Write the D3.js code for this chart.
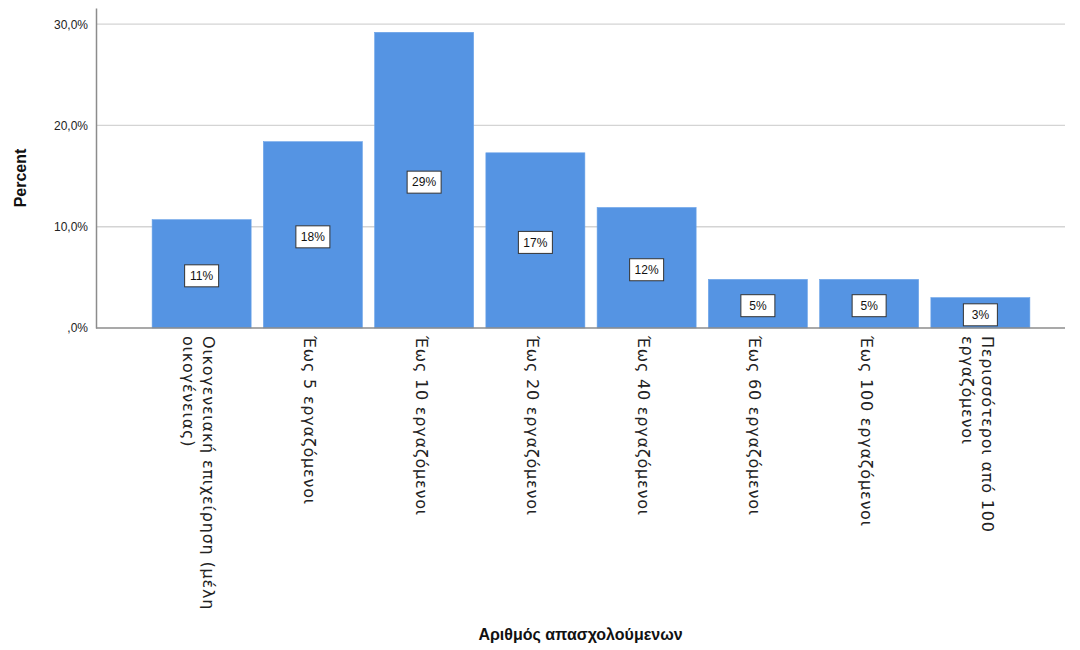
<html>
<head>
<meta charset="utf-8">
<script src="https://d3js.org/d3.v7.min.js"></script>
<style>
  body { margin: 0; background: #fff; }
  text { font-family: "Liberation Sans", Arial, sans-serif; }
</style>
</head>
<body>
<div id="wrapper"></div>
<script>
// categories (each entry = lines of the rotated tick label)
var categories = [
  ["Οικογενειακή επιχείρηση (μέλη", "οικογένειας)"],
  ["Έως 5 εργαζόμενοι"],
  ["Έως 10 εργαζόμενοι"],
  ["Έως 20 εργαζόμενοι"],
  ["Έως 40 εργαζόμενοι"],
  ["Έως 60 εργαζόμενοι"],
  ["Έως 100 εργαζόμενοι"],
  ["Περισσότεροι από 100", "εργαζόμενοι"]
];
var percents = [10.7, 18.4, 29.2, 17.3, 11.9, 4.8, 4.8, 3.0];
var yTicks = [0, 10, 20, 30];

var width = 1080, height = 650;
var plotLeft = 96, plotRight = 1065, plotTop = 8, plotBottom = 328;

var svg = d3.select("#wrapper").append("svg")
  .attr("width", width)
  .attr("height", height);

// bars sit a bit right of centre, like the SPSS output
var xScale = d3.scaleBand()
  .domain(d3.range(categories.length))
  .range([146, 1036])
  .paddingInner(0.11)
  .paddingOuter(0.055);

var yScale = d3.scaleLinear().domain([0, 31.6]).range([plotBottom, plotTop]);

// gridlines
svg.append("g").selectAll("line")
  .data(yTicks.filter(function(d) { return d > 0; }))
  .enter().append("line")
  .attr("x1", plotLeft).attr("x2", plotRight)
  .attr("y1", function(d) { return yScale(d); })
  .attr("y2", function(d) { return yScale(d); })
  .attr("stroke", "#d4d4d4")
  .attr("stroke-width", 1.3);

// y axis
var yAxis = d3.axisLeft(yScale)
  .tickValues(yTicks)
  .tickSize(0)
  .tickPadding(8)
  .tickFormat(function(d) { return d == 0 ? ",0%" : d + ",0%"; });
var gy = svg.append("g")
  .attr("transform", "translate(" + plotLeft + ",0)")
  .call(yAxis);
gy.select(".domain").attr("stroke", "#8c8c8c").attr("stroke-width", 1.5);
gy.selectAll("text").attr("font-size", 12).attr("fill", "#222")
  .style("font-family", "'Liberation Sans', Arial, sans-serif");

// bars
svg.append("g").selectAll("rect")
  .data(percents)
  .enter().append("rect")
  .attr("x", function(d, i) { return xScale(i); })
  .attr("y", function(d) { return yScale(d); })
  .attr("width", xScale.bandwidth())
  .attr("height", function(d) { return plotBottom - yScale(d); })
  .attr("fill", "#5594e3")
  .attr("stroke", "#6aa2e8")
  .attr("stroke-width", 0.6);

// x baseline
svg.append("line")
  .attr("x1", plotLeft).attr("x2", plotRight)
  .attr("y1", plotBottom).attr("y2", plotBottom)
  .attr("stroke", "#8c8c8c").attr("stroke-width", 1.5);

// value labels in boxes
var labels = svg.append("g").selectAll("g")
  .data(percents)
  .enter().append("g")
  .attr("transform", function(d, i) {
    return "translate(" + (xScale(i) + xScale.bandwidth() / 2) + "," + ((yScale(d) + plotBottom) / 2 + 2) + ")";
  });
labels.append("rect")
  .attr("x", -17).attr("y", -11)
  .attr("width", 34).attr("height", 22)
  .attr("fill", "#fff")
  .attr("stroke", "#333")
  .attr("stroke-width", 1);
labels.append("text")
  .attr("text-anchor", "middle")
  .attr("dy", "0.36em")
  .attr("font-size", 12)
  .attr("fill", "#111")
  .text(function(d) { return Math.round(d) + "%"; });

// rotated category labels
var lineH = 20;
var cat = svg.append("g").selectAll("text")
  .data(categories)
  .enter().append("text")
  .attr("transform", function(d, i) {
    var cx = xScale(i) + xScale.bandwidth() / 2 - 3 + (d.length - 1) * lineH / 2;
    return "translate(" + cx + "," + (plotBottom + 8) + ") rotate(90)";
  })
  .attr("font-size", 16)
  .attr("letter-spacing", 0.8)
  .attr("fill", "#222")
  .style("font-family", "'DejaVu Sans', sans-serif");
cat.selectAll("tspan")
  .data(function(d) { return d; })
  .enter().append("tspan")
  .attr("x", 0)
  .attr("dy", function(d, j) { return j == 0 ? "0.35em" : lineH; })
  .text(function(d) { return d; });

// axis titles
svg.append("text")
  .attr("transform", "translate(26," + ((plotTop + plotBottom) / 2 + 10) + ") rotate(-90)")
  .attr("text-anchor", "middle")
  .attr("font-size", 16)
  .attr("font-weight", "bold")
  .attr("fill", "#111")
  .text("Percent");

svg.append("text")
  .attr("x", (plotLeft + plotRight) / 2)
  .attr("y", 640)
  .attr("text-anchor", "middle")
  .attr("font-size", 16)
  .attr("font-weight", "bold")
  .attr("fill", "#111")
  .text("Αριθμός απασχολούμενων");
</script>
</body>
</html>
